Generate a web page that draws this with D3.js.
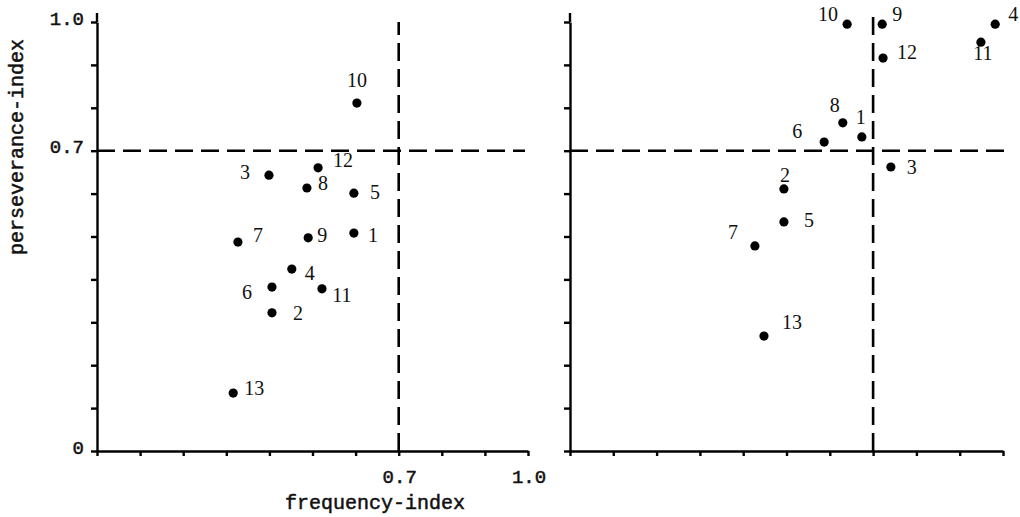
<!DOCTYPE html>
<html>
<head>
<meta charset="utf-8">
<script src="https://cdn.jsdelivr.net/npm/d3@7"></script>
<style>
  body { margin: 0; background: #fff; }
  svg { display: block; }
  .axis path, .axis line { stroke: #000; stroke-width: 2.4; }
  .tick-label, .title { font-family: "Liberation Mono", "DejaVu Sans Mono", monospace; fill: #111; stroke: #111; stroke-width: 0.5; }
  .pt-label { font-family: "Liberation Serif", "DejaVu Serif", serif; fill: #111; }
</style>
</head>
<body>
<svg id="chart" width="1020" height="517"></svg>
<script>
// Point ids (same in both panels)
const pointIds = [1, 2, 3, 4, 5, 6, 7, 8, 9, 10, 11, 12, 13];

// Left panel: frequency-index / perseverance-index
const leftFreq = [0.596, 0.406, 0.399, 0.452, 0.596, 0.406, 0.327, 0.487, 0.490, 0.603, 0.522, 0.513, 0.316];
const leftPers = [0.508, 0.322, 0.643, 0.424, 0.601, 0.382, 0.487, 0.613, 0.497, 0.811, 0.378, 0.660, 0.135];

// Right panel
const rightFreq = [0.674, 0.494, 0.741, 0.982, 0.494, 0.587, 0.427, 0.630, 0.721, 0.640, 0.949, 0.723, 0.448];
const rightPers = [0.732, 0.611, 0.662, 0.995, 0.534, 0.720, 0.478, 0.765, 0.995, 0.995, 0.953, 0.916, 0.268];

const cutoff = 0.7;
const tickValues = d3.range(0, 1.0001, 0.1);
const yTickLabels = [[0, "0"], [0.7, "0.7"], [1.0, "1.0"]];
const xTickLabels = [[0.7, "0.7"], [1.0, "1.0"]];

// label nudges (dx, dy) so numbers sit where the original put them
const leftNudge = [[19, 2], [26, 0], [-24, -3], [18, 4], [21, -1], [-25, 5], [20, -7],
                   [16, -5], [14, -3], [0, -23], [20, 6], [25, -8], [21, -5]];
const rightNudge = [[-1, -20], [1, -14], [21, 0], [18, -10], [25, -2], [-27, -11], [-22, -14],
                    [-8, -18], [15, -10], [-19, -10], [2, 11], [24, -6], [28, -14]];

const svg = d3.select("#chart");

const y = d3.scaleLinear().domain([0, 1]).range([451, 22]);

function drawPanel(xRange, freq, pers, nudge, withLabels, dashEnds) {
    const x = d3.scaleLinear().domain([0, 1]).range(xRange);
    const g = svg.append("g");

    // y axis (ticks outward on the left, no text)
    g.append("g").attr("class", "axis")
        .attr("transform", `translate(${x(0)},0)`)
        .call(d3.axisLeft(y).tickValues(tickValues).tickSize(6).tickSizeOuter(0).tickFormat(""));
    // axis line runs a bit above 1.0
    g.append("line")
        .attr("x1", x(0)).attr("x2", x(0))
        .attr("y1", y(1)).attr("y2", 13)
        .attr("stroke", "#000").attr("stroke-width", 2.4);

    // x axis (ticks downward)
    g.append("g").attr("class", "axis")
        .attr("transform", `translate(0,${y(0)})`)
        .call(d3.axisBottom(x).tickValues(tickValues).tickSize(5).tickSizeOuter(0).tickFormat(""));

    g.selectAll(".axis text").remove();

    // dashed cut-off lines
    g.append("line")
        .attr("x1", x(0)).attr("x2", dashEnds.hEnd)
        .attr("y1", y(cutoff)).attr("y2", y(cutoff))
        .attr("stroke", "#000").attr("stroke-width", 2.6)
        .attr("stroke-dasharray", "18,8");
    g.append("line")
        .attr("x1", x(cutoff)).attr("x2", x(cutoff))
        .attr("y1", y(0)).attr("y2", dashEnds.vTop)
        .attr("stroke", "#000").attr("stroke-width", 2.6)
        .attr("stroke-dasharray", "18,8");

    if (withLabels) {
        g.selectAll(".ylab")
            .data(yTickLabels)
            .enter().append("text")
            .attr("class", "tick-label")
            .attr("x", x(0) - 13)
            .attr("y", d => y(d[0]) - 4)
            .attr("dy", "0.35em")
            .attr("text-anchor", "end")
            .style("font-size", "19px")
            .text(d => d[1]);

        g.selectAll(".xlab")
            .data(xTickLabels)
            .enter().append("text")
            .attr("class", "tick-label")
            .attr("x", d => x(d[0]) + 1)
            .attr("y", y(0) + 25)
            .attr("dy", "0.35em")
            .attr("text-anchor", "middle")
            .style("font-size", "19px")
            .text(d => d[1]);
    }

    // points
    const pts = pointIds.map((id, i) => ({ id: id, f: freq[i], p: pers[i], n: nudge[i] }));

    g.selectAll(".dot")
        .data(pts)
        .enter().append("circle")
        .attr("cx", d => x(d.f))
        .attr("cy", d => y(d.p))
        .attr("r", 4.6)
        .attr("fill", "#000");

    g.selectAll(".pt-label")
        .data(pts)
        .enter().append("text")
        .attr("class", "pt-label")
        .attr("x", d => x(d.f) + d.n[0])
        .attr("y", d => y(d.p) + d.n[1])
        .attr("dy", "0.36em")
        .attr("text-anchor", "middle")
        .style("font-size", "20px")
        .text(d => d.id);

    return x;
}

const xLeft = drawPanel([97, 528], leftFreq, leftPers, leftNudge, true, { hEnd: 525, vTop: 22 });
drawPanel([570, 1003], rightFreq, rightPers, rightNudge, false, { hEnd: 1007, vTop: 13 });

// axis titles
svg.append("text")
    .attr("class", "title")
    .attr("x", xLeft(0.645))
    .attr("y", 502)
    .attr("dy", "0.35em")
    .attr("text-anchor", "middle")
    .style("font-size", "20px")
    .text("frequency-index");

svg.append("text")
    .attr("class", "title")
    .attr("transform", "translate(16,147) rotate(-90)")
    .attr("dy", "0.35em")
    .attr("text-anchor", "middle")
    .style("font-size", "20px")
    .text("perseverance-index");
</script>
</body>
</html>
